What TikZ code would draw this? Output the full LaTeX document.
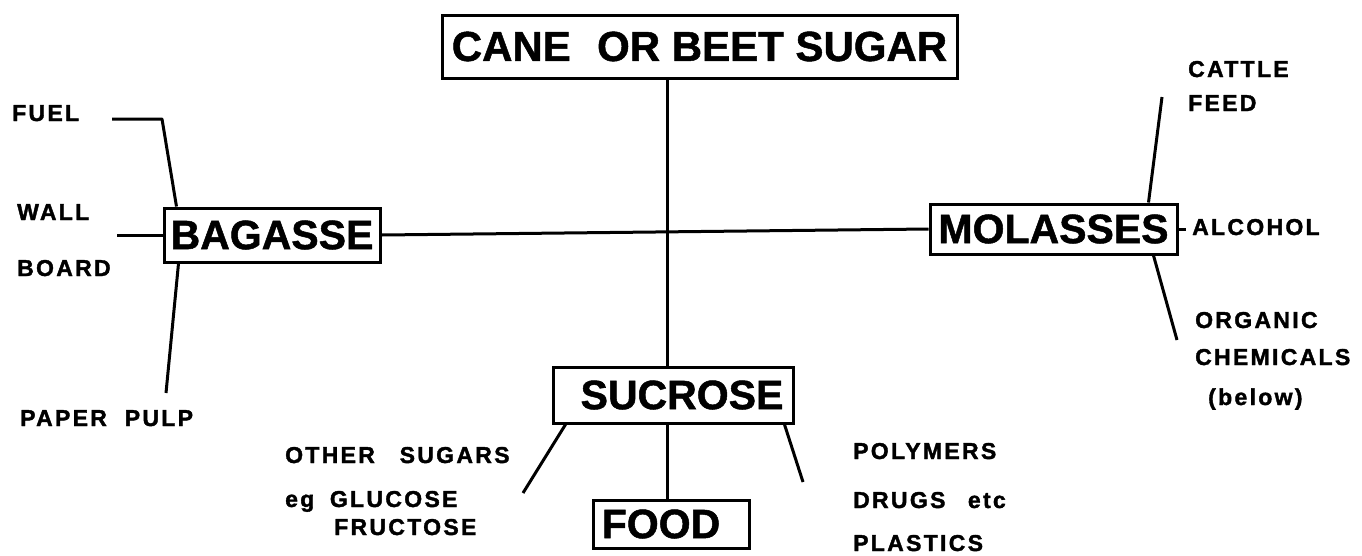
\documentclass[tikz,border=0pt]{standalone}
\usepackage{fontspec}
\setmainfont{Liberation Sans}
\newfontfamily\spacedfont[LetterSpace=10,BoldFeatures={FakeBold=1.6}]{Liberation Sans}
\newfontfamily\heavyfont[BoldFeatures={FakeBold=1.2}]{Liberation Sans}
\newcommand\bigfont{\heavyfont\fontsize{41}{41}\selectfont\bfseries}
\newcommand\topfont{\heavyfont\fontsize{42}{42}\selectfont\bfseries}
\newcommand\smallfont{\spacedfont\fontsize{23}{23}\selectfont\bfseries}
\tikzset{
  box/.style={draw, line width=3pt, inner sep=0pt, font=\bigfont, anchor=center},
  lab/.style={inner sep=0pt, anchor=base west, font=\smallfont},
  conn/.style={line width=3pt, line join=round},
}
\begin{document}
\begin{tikzpicture}[x=1pt,y=-1pt]
\useasboundingbox (0,0) rectangle (1362,555);
% boxes
\node[box, minimum width=515, minimum height=63, font=\topfont] (cane) at (699.5,46.5) {CANE\hspace{0.35em} OR BEET SUGAR};
\node[box, minimum width=216, minimum height=54] (bag) at (272,235) {BAGASSE};
\node[box, minimum width=247, minimum height=50] (mol) at (1053.5,229) {MOLASSES};
\node[box, minimum width=240, minimum height=56] (suc) at (673,395) {\hspace*{18pt}SUCROSE};
\node[box, minimum width=156, minimum height=48] (food) at (671,524) {FOOD\hspace*{20pt}};
% labels
\node[lab] (fuel) at (12,121) {FUEL};
\node[lab] (wall) at (17,220) {WALL};
\node[lab] (board) at (17,276) {BOARD};
\node[lab] (pulp) at (20,426) {PAPER\hspace{0.4em} PULP};
\node[lab] (cattle) at (1188,77) {CATTLE};
\node[lab] (feed) at (1188,111) {FEED};
\node[lab] (alcohol) at (1192,235) {ALCOHOL};
\node[lab] (organic) at (1195,328) {ORGANIC};
\node[lab] (chem) at (1195,365) {CHEMICALS};
\node[lab] (below) at (1208,405) {(below)};
\node[lab] (other) at (285,463) {OTHER\hspace{0.7em} SUGARS};
\node[lab] (gluc) at (285,507) {eg\hspace{0.3em} GLUCOSE};
\node[lab] (fruc) at (334,535) {FRUCTOSE};
\node[lab] (poly) at (853,459) {POLYMERS};
\node[lab] (drugs) at (853,508) {DRUGS\hspace{0.6em} etc};
\node[lab] (plast) at (853,551) {PLASTICS};
% connector ends
\coordinate (trunk) at (667,232);
\coordinate (fuelA) at (112,119);
\coordinate (fuelB) at (162,119);
\coordinate (wallA) at (117,235);
\coordinate (pulpA) at (166,393);
\coordinate (cattleA) at (1162,97);
\coordinate (alcA) at (1186,229);
\coordinate (orgA) at (1177,340);
\coordinate (sugA) at (523,493);
\coordinate (polA) at (803,482);
% connectors
\draw[conn] (cane.south -| trunk) -- (suc.north -| trunk);
\draw[conn] (bag.east) -- (mol.west);
\draw[conn] (suc.south -| trunk) -- (food.north -| trunk);
\draw[conn] (fuelA) -- (fuelB) -- ([xshift=14pt]bag.north west);
\draw[conn] (wallA) -- (bag.west);
\draw[conn] ([xshift=16pt]bag.south west) -- (pulpA);
\draw[conn] ([xshift=-30pt]mol.north east) -- (cattleA);
\draw[conn] (mol.east) -- (alcA);
\draw[conn] ([xshift=-25pt]mol.south east) -- (orgA);
\draw[conn] ([xshift=14pt]suc.south west) -- (sugA);
\draw[conn] ([xshift=-10pt]suc.south east) -- (polA);
\end{tikzpicture}
\end{document}
